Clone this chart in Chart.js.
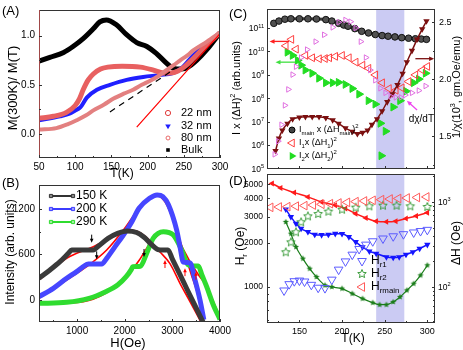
<!DOCTYPE html>
<html><head><meta charset="utf-8">
<script src="https://cdn.jsdelivr.net/npm/chart.js@4.4.1/dist/chart.umd.min.js"></script>
<style>
html,body{margin:0;padding:0;background:#fff;}
#wrap{position:relative;width:463px;height:350px;overflow:hidden;background:#fff;}
canvas{position:absolute;left:0;top:0;}
</style></head><body>
<div id="wrap">
<canvas id="cA" width="463" height="350"></canvas>
<canvas id="cB" width="463" height="350"></canvas>
<canvas id="cC" width="463" height="350"></canvas>
<canvas id="cD" width="463" height="350"></canvas>
</div>
<script>
const FONT = '"Liberation Sans", Arial, Helvetica, sans-serif';

// ---------------- Panel A : M(300K)/M(T) vs T ----------------
const A_X_TICKS = [50,100,150,200,250,300];
const A_X_MINOR = [75,125,175,225,275];
const A_Y_TICKS = [0.0,0.5,1.0];
const A_Y_MINOR = [0.25,0.75];
const A_T_BULK = [50,65,84,97,111,125,134,143,157,171,185,199,212,226,235,247,256,268,282,300];
const A_BULK   = [0.74,0.78,0.83,0.89,0.97,1.07,1.14,1.16,1.11,1.01,0.93,0.89,0.82,0.72,0.67,0.66,0.68,0.75,0.86,1.03];
const A_T_22 = [50,70,88,100,106,111,118,125,135,145,165,190,208,222,232,242,252,262,278,300];
const A_22   = [0.16,0.18,0.22,0.29,0.36,0.45,0.55,0.61,0.66,0.68,0.69,0.68,0.65,0.62,0.62,0.64,0.69,0.76,0.88,1.03];
const A_T_32 = [50,79,93,100,107,116,130,148,171,194,217,235,247,263,282,300];
const A_32   = [0.14,0.18,0.21,0.24,0.27,0.37,0.45,0.50,0.55,0.58,0.60,0.62,0.67,0.80,0.92,1.03];
const A_T_80 = [50,74,90,102,115,125,140,153,167,180,192,203,215,226,236,245,255,263,282,300];
const A_80   = [0.045,0.06,0.10,0.14,0.19,0.24,0.30,0.36,0.41,0.45,0.50,0.54,0.59,0.65,0.70,0.75,0.80,0.85,0.94,1.03];
const A_DASH_T = [148,235]; const A_DASH = [0.225,0.65];
const A_LINE_T = [185,300]; const A_LINE = [0.07,1.02];
const A_LEGEND = ['22 nm','32 nm','80 nm','Bulk'];

// ---------------- Panel B : Intensity vs H ----------------
const B_X_TICKS = [1000,2000,3000,4000];
const B_X_MINOR = [500,1500,2500,3500];
const B_Y_TICKS = [0,600,1200];
const B_Y_MINOR = [300,900];
const B_H_150 = [200,431,641,816,886,956,1100,1250,1340,1450,1650,1850,2050,2250,2400,2550,2700,2800,2908,3000,3150,3300,3450,3600,3650];
const B_150   = [286,396,505,615,659,659,659,659,659,712,813,879,910,890,830,740,665,659,659,540,347,152,-42,-235,-300];
const B_FIT150_H = [200,781,1341,1691,2000,2200,2450,2740,2950,3160,3370,3600];
const B_FIT150   = [264,549,703,813,901,914,830,633,480,220,-20,-290];
const B_H_200 = [200,501,781,991,1131,1236,1376,1516,1621,1796,1971,2150,2300,2520,2680,2800,2920,3090,3160,3230,3370,3475,3580,3660];
const B_200   = [44,154,286,374,440,475,475,475,549,703,857,1033,1209,1341,1385,1363,1253,923,703,500,490,264,0,-260];
const B_FIT200_H = [200,781,1201,1621,2000,2300,2550,2680,2850,3000,3080,3250,3400,3530,3650];
const B_FIT200   = [22,264,440,659,945,1209,1354,1375,1290,1080,923,620,330,80,-240];
const B_H_290 = [200,781,1250,1600,1850,2030,2140,2170,2330,2461,2600,2810,3020,3195,3335,3440,3545,3620,3720,3860,4000];
const B_290   = [-44,-31,22,110,198,308,404,440,445,618,815,901,857,660,462,448,448,330,176,-66,-255];
const B_FIT290_H = [200,1131,1600,2000,2300,2550,2810,3020,3200,3370,3550,3720,3860,4000];
const B_FIT290   = [-53,-22,88,280,520,760,888,850,700,505,330,176,-20,-230];
const B_DOWN_H = [1306,1411,2405]; const B_DOWN_I = [756,536,567];
const B_UP_H = [2845,3265,3495];   const B_UP_I = [527,420,374];
const B_LEGEND = ['150 K','200 K','290 K'];

// ---------------- Panel C ----------------
const C_X_TICKS = [150,200,250,300];
const C_X_MINOR = [125,175,225,275];
const C_YL_TICKS = [1e5,1e6,1e7,1e8,1e9,1e10,1e11];
const C_YR_TICKS = [1.5,2.0,2.5];
const C_YR_MINOR = [1.25,1.75,2.25];
const BAND_T = [240,273];
const C_T_MAIN = [120,126,133,140,150,160,170,181,188,196,202,207,215,223,231,239,247,254,262,270,278,286,293,299];
const C_MAIN   = [1.6e11,2.0e11,2.4e11,2.5e11,2.5e11,2.5e11,2.45e11,2.3e11,2.0e11,1.6e11,1.35e11,1.2e11,9.5e10,7.3e10,6.2e10,5.3e10,4.8e10,4.5e10,4.2e10,3.9e10,3.7e10,3.5e10,3.4e10,3.3e10];
const C_T_I1 = [134,146,157,165,173,180,185,192,200,208,216,224,231,239,247,255,263,270,278,286,294,300];
const C_I1   = [1.74e10,1.26e10,6.8e9,5.4e9,4.9e9,5.0e9,5.4e9,6.2e9,6.8e9,5.4e9,3.5e9,2.6e9,1.9e9,1.0e9,4.6e8,2.6e8,2.2e8,2.8e8,5.2e8,1.0e9,1.6e9,2.3e9];
const C_T_I2 = [136,142,148,152,157,165,173,181,189,196,204,212,220,231,239,245,246,251,260,268,275,284,290,298];
const C_I2   = [9.3e9,6.8e9,4.2e9,2.6e9,1.6e9,1.17e9,7.2e8,4.6e8,4.6e8,4.8e8,3.9e8,2.6e8,1.5e8,7.9e7,5.6e7,8.5e6,3.5e5,3.9e6,4.2e7,7.9e7,2.0e8,4.6e8,6.6e8,1.17e9];
const C_T_DCHI = [121,125,129,133,137,142,146,152,159,169,179,189,196,204,210,216,222,228,233,239,245,251,257,263,269,274,282,290,298];
const C_DCHI   = [1.34,1.455,1.60,1.77,1.91,2.04,2.11,2.19,2.26,2.33,2.39,2.455,2.50,2.52,2.505,2.45,2.33,2.19,2.08,1.99,1.92,1.88,1.85,1.84,1.84,1.86,1.88,1.90,1.94];
const C_T_INV = [122,126,130,136,142,150,157,165,173,181,189,196,204,212,218,224,230,235,241,247,253,259,265,271,276,282,288,294,299];
const C_INV   = [1.37,1.48,1.55,1.61,1.65,1.665,1.67,1.67,1.67,1.66,1.64,1.61,1.57,1.54,1.52,1.53,1.55,1.60,1.65,1.72,1.80,1.87,1.95,2.05,2.15,2.25,2.35,2.44,2.51];

// ---------------- Panel D ----------------
const D_X_TICKS = [150,200,250,300];
const D_X_MINOR = [125,175,225,275];
const D_YL_TICKS = [1000,2000,3000,4000,5000];
const D_YL_MINOR = [600,700,800,900];
const D_YR_TICKS = [100,1000];
const D_YR_MINOR = [40,50,60,70,80,90,200,300,400,500,600,700,800,900,2000];
const D_T_MAIN = [118,128,144,160,176,192,204,216,228,240,252,263,275,287,300];
const D_MAIN   = [5060,4720,4385,4100,3790,3600,3415,3155,2950,2800,2775,2800,2920,3040,3205];
const D_T_R1 = [134,140,146,152,160,168,176,184,192,200,208,216,224,232,240,252,260,267,275,283,291,300];
const D_R1   = [3380,3000,2700,2495,2370,2270,2260,2270,2305,2300,2190,2025,1870,1750,1690,1600,1585,1600,1660,1730,1825,1940];
const D_T_R2 = [134,140,146,154,162,170,180,188,200,212,224,236,244,252,260,268,276,284,292,300];
const D_R2   = [2770,2305,1870,1560,1333,1170,1026,1000,975,901,833,782,758,758,791,855,949,1054,1200,1405];
const D_T_W1 = [132,138,144,150,156,164,172,180,188,196,204,212,220,228,236,248,260,272,284,292,300];
const D_W1   = [91,108,117,119,116,106,98,97,122,160,200,240,280,315,345,372,395,418,438,455,470];
const D_T_W2 = [134,140,146,152,160,172,184,200,216,232,248,264,280,300];
const D_W2   = [256,335,440,577,678,722,770,812,858,889,906,906,889,873];
const D_T_WM = [116,126,136,146,156,166,176,186,196,206,216,226,236,246,256,266,276,288,299];
const D_WM   = [865,873,881,893,906,920,939,955,973,990,1009,1028,1047,1065,1084,1099,1114,1130,1146];

// ---------------- helpers ----------------
const P = (xs, ys) => xs.map((x, i) => ({x: x, y: ys[i]}));
function line(xs, ys, o) {
  return Object.assign({data: P(xs, ys), showLine: true, pointRadius: 0, borderWidth: 1.5,
    cubicInterpolationMode: 'monotone', fill: false, yAxisID: 'y'}, o);
}
function pts(xs, ys, o) {
  return Object.assign({data: P(xs, ys), showLine: false, pointRadius: 3, borderWidth: 1, yAxisID: 'y'}, o);
}
function band(xs, ys, outer, inner, w1, w2, o) {
  return [line(xs, ys, Object.assign({borderColor: outer, borderWidth: w1}, o || {})),
          line(xs, ys, Object.assign({borderColor: inner, borderWidth: w2}, o || {}))];
}
function starImg(r, fill, stroke) {
  const c = document.createElement('canvas'); const s = Math.ceil(r * 2 + 3); c.width = c.height = s;
  const g = c.getContext('2d'); g.translate(s / 2, s / 2); g.beginPath();
  for (let i = 0; i < 10; i++) { const rr = i % 2 ? r * 0.45 : r; const a = -Math.PI / 2 + i * Math.PI / 5; g.lineTo(rr * Math.cos(a), rr * Math.sin(a)); }
  g.closePath();
  if (fill) { g.fillStyle = fill; g.fill(); }
  if (stroke) { g.strokeStyle = stroke; g.lineWidth = 1; g.stroke(); }
  return c;
}
function scale(pos, type, min, max, ticks, fmt, fit, o) {
  o = o || {};
  return {
    type: type, position: pos, min: min, max: max, bounds: 'data',
    grid: {display: false, drawTicks: false}, border: {display: false},
    ticks: {display: o.labels !== false, color: '#000', font: {family: FONT, size: o.size || 10},
      padding: o.pad == null ? 3 : o.pad, autoSkip: false, maxRotation: 0, minRotation: 0,
      callback: (v) => fmt(v)},
    afterBuildTicks: (s) => { s.ticks = ticks.map(v => ({value: v})); },
    afterFit: (s) => { if (pos === 'left' || pos === 'right') s.width = fit; else s.height = fit; }
  };
}
function rich(ctx, segs, x, y, size, o) {
  o = o || {};
  ctx.save(); ctx.translate(x, y); if (o.rot) ctx.rotate(o.rot);
  ctx.textBaseline = 'middle'; ctx.textAlign = 'left'; ctx.fillStyle = o.color || '#000';
  const f = m => (m ? size * 0.66 : size) + 'px ' + FONT;
  let w = 0;
  segs.forEach(([t, m]) => { ctx.font = f(m); w += ctx.measureText(t).width; });
  let cx = o.align === 'left' ? 0 : (o.align === 'right' ? -w : -w / 2);
  segs.forEach(([t, m]) => {
    ctx.font = f(m);
    const dy = m === 1 ? size * 0.32 : (m === 2 ? -size * 0.36 : 0);
    ctx.fillText(t, cx, dy); cx += ctx.measureText(t).width;
  });
  ctx.restore();
}
function mark(ctx, type, x, y, r, fill, stroke, rot) {
  ctx.save(); ctx.translate(x, y); ctx.rotate((rot || 0) * Math.PI / 180); ctx.beginPath();
  if (type === 'circle') ctx.arc(0, 0, r, 0, 2 * Math.PI);
  else if (type === 'rect') ctx.rect(-r, -r, 2 * r, 2 * r);
  else if (type === 'triangle') { ctx.moveTo(0, -r); ctx.lineTo(r * 0.87, r * 0.5); ctx.lineTo(-r * 0.87, r * 0.5); ctx.closePath(); }
  else if (type === 'star') { for (let i = 0; i < 10; i++) { const rr = i % 2 ? r * 0.45 : r; const a = -Math.PI / 2 + i * Math.PI / 5; ctx.lineTo(rr * Math.cos(a), rr * Math.sin(a)); } ctx.closePath(); }
  if (fill) { ctx.fillStyle = fill; ctx.fill(); }
  if (stroke) { ctx.strokeStyle = stroke; ctx.lineWidth = 1; ctx.stroke(); }
  ctx.restore();
}
function arrow(ctx, x1, y1, x2, y2, color, lw, hl) {
  const a = Math.atan2(y2 - y1, x2 - x1); hl = hl || 5;
  ctx.save(); ctx.strokeStyle = color; ctx.fillStyle = color; ctx.lineWidth = lw || 1.2;
  ctx.beginPath(); ctx.moveTo(x1, y1); ctx.lineTo(x2 - Math.cos(a) * hl * 0.8, y2 - Math.sin(a) * hl * 0.8); ctx.stroke();
  ctx.beginPath(); ctx.moveTo(x2, y2);
  ctx.lineTo(x2 - hl * Math.cos(a) + hl * 0.45 * Math.sin(a), y2 - hl * Math.sin(a) - hl * 0.45 * Math.cos(a));
  ctx.lineTo(x2 - hl * Math.cos(a) - hl * 0.45 * Math.sin(a), y2 - hl * Math.sin(a) + hl * 0.45 * Math.cos(a));
  ctx.closePath(); ctx.fill(); ctx.restore();
}
function frame(chart, axes, leftColor) {
  const ctx = chart.ctx, a = chart.chartArea;
  ctx.save(); ctx.strokeStyle = '#333'; ctx.lineWidth = 1;
  ctx.strokeRect(Math.round(a.left) + 0.5, Math.round(a.top) + 0.5, Math.round(a.right - a.left) - 1, Math.round(a.bottom - a.top) - 1);
  if (leftColor) { ctx.strokeStyle = leftColor; ctx.beginPath(); ctx.moveTo(Math.round(a.left) + 0.5, a.top); ctx.lineTo(Math.round(a.left) + 0.5, a.bottom); ctx.stroke(); ctx.strokeStyle = '#333'; }
  axes.forEach(ax => {
    const s = chart.scales[ax.id];
    [[ax.major, 3], [ax.minor || [], 2]].forEach(([vals, len]) => vals.forEach(v => {
      const p = Math.round(s.getPixelForValue(v)) + 0.5;
      ctx.beginPath();
      if (ax.side === 'bottom') { ctx.moveTo(p, a.bottom); ctx.lineTo(p, a.bottom - len); }
      else if (ax.side === 'left') { ctx.moveTo(a.left, p); ctx.lineTo(a.left + len, p); }
      else { ctx.moveTo(a.right, p); ctx.lineTo(a.right - len, p); }
      ctx.stroke();
    }));
  });
  ctx.restore();
}
function logLabels(chart, id, side, size) {
  const s = chart.scales[id], a = chart.chartArea, ctx = chart.ctx;
  s.ticks.forEach(t => {
    const y = s.getPixelForValue(t.value);
    const e = Math.round(Math.log10(t.value));
    const segs = [['10', 0], [String(e), 2]];
    if (side === 'left') rich(ctx, segs, a.left - 3, y + 1, size, {align: 'right'});
    else rich(ctx, segs, a.right + 3, y + 1, size, {align: 'left'});
  });
}
function shade(chart) {
  const ctx = chart.ctx, a = chart.chartArea, x = chart.scales.x;
  const x1 = x.getPixelForValue(BAND_T[0]), x2 = x.getPixelForValue(BAND_T[1]);
  ctx.save(); ctx.fillStyle = '#cbcbf3'; ctx.fillRect(x1, a.top, x2 - x1, a.bottom - a.top); ctx.restore();
}

const DECO = {};
Chart.register({
  id: 'deco',
  beforeDatasetsDraw(chart) { const d = DECO[chart.canvas.id]; if (d && d.before) d.before(chart, chart.ctx); },
  afterDatasetsDraw(chart) { const d = DECO[chart.canvas.id]; if (d && d.after) d.after(chart, chart.ctx); }
});
function base(padding, scales) {
  return {responsive: false, animation: false, devicePixelRatio: 1, events: [],
    layout: {padding: padding}, plugins: {legend: {display: false}, tooltip: {enabled: false}}, scales: scales};
}

// ================= Panel A =================
DECO.cA = {
  after(chart, ctx) {
    frame(chart, [{id: 'x', side: 'bottom', major: A_X_TICKS, minor: A_X_MINOR}, {id: 'y', side: 'left', major: A_Y_TICKS, minor: A_Y_MINOR}], '#a04848');
    rich(ctx, [['(A)', 0]], 2, 11, 13, {align: 'left'});
    rich(ctx, [['M(300K)/ M(T)', 0]], 13, 88, 13, {rot: -Math.PI / 2});
    rich(ctx, [['T(K)', 0]], 122, 174, 12);
    const ys = [113, 126, 138, 150];
    mark(ctx, 'circle', 168, ys[0], 2.6, '#fff', '#e03a3a');
    mark(ctx, 'triangle', 168, ys[1], 3.2, '#1f1fff', null, 180);
    mark(ctx, 'circle', 168, ys[2], 2.0, '#fff', '#e86a6a');
    mark(ctx, 'rect', 168, ys[3], 1.8, '#000', null);
    A_LEGEND.forEach((t, i) => rich(ctx, [[t, 0]], 181, ys[i], 11, {align: 'left'}));
  }
};
new Chart(document.getElementById('cA'), {
  type: 'scatter',
  data: {datasets: [
    line(A_DASH_T, A_DASH, {borderColor: '#000', borderWidth: 1.2, borderDash: [6, 5]}),
    line(A_LINE_T, A_LINE, {borderColor: '#ff0000', borderWidth: 1.2}),
    ...band(A_T_80, A_80, '#e38080', '#ffffff', 4, 2),
    ...band(A_T_22, A_22, '#e86060', '#ffe4e4', 5, 2.6),
    line(A_T_32, A_32, {borderColor: '#1f1fff', borderWidth: 4}),
    line(A_T_BULK, A_BULK, {borderColor: '#000', borderWidth: 5})
  ]},
  options: base({left: 0, top: 4, right: 243, bottom: 164}, {
    x: scale('bottom', 'linear', 50, 300, A_X_TICKS, v => String(v), 28, {size: 10, pad: 3}),
    y: scale('left', 'linear', -0.244, 1.261, A_Y_TICKS, v => v.toFixed(1), 39, {size: 10, pad: 4})
  })
});

// ================= Panel B =================
DECO.cB = {
  after(chart, ctx) {
    const x = chart.scales.x, y = chart.scales.y;
    B_DOWN_H.forEach((h, i) => { const px = x.getPixelForValue(h), py = y.getPixelForValue(B_DOWN_I[i]); arrow(ctx, px, py - 8, px, py, '#000', 1, 4); });
    B_UP_H.forEach((h, i) => { const px = x.getPixelForValue(h), py = y.getPixelForValue(B_UP_I[i]); arrow(ctx, px, py + 8, px, py, '#ff0000', 1, 4); });
    frame(chart, [{id: 'x', side: 'bottom', major: B_X_TICKS, minor: B_X_MINOR}, {id: 'y', side: 'left', major: B_Y_TICKS, minor: B_Y_MINOR}]);
    rich(ctx, [['(B)', 0]], 2, 183, 13, {align: 'left'});
    rich(ctx, [['Intensity (arb. units)', 0]], 11, 252, 12, {rot: -Math.PI / 2});
    rich(ctx, [['H(Oe)', 0]], 128, 343, 13);
    const ys = [196, 209, 222], cols = [['#333', '#888'], ['#3c3cff', '#9a9aff'], ['#2fdc2f', '#a0f0a0']];
    ys.forEach((yy, i) => {
      ctx.save(); ctx.strokeStyle = cols[i][0]; ctx.lineWidth = 2; ctx.beginPath(); ctx.moveTo(50, yy); ctx.lineTo(74, yy); ctx.stroke(); ctx.restore();
      mark(ctx, 'rect', 51, yy, 1.6, cols[i][1], cols[i][0]);
      mark(ctx, 'rect', 73, yy, 1.6, cols[i][1], cols[i][0]);
      rich(ctx, [[B_LEGEND[i], 0]], 76, yy, 12, {align: 'left'});
    });
  }
};
new Chart(document.getElementById('cB'), {
  type: 'scatter',
  data: {datasets: [
    ...band(B_H_150, B_150, '#3a3a3a', '#8e8e8e', 5, 1.3),
    ...band(B_H_200, B_200, '#4646ff', '#a6a6ff', 5, 1.3),
    ...band(B_H_290, B_290, '#2fdc2f', '#a8f5a8', 5, 1.3),
    line(B_FIT150_H, B_FIT150, {borderColor: '#ff0000', borderWidth: 1.6}),
    line(B_FIT200_H, B_FIT200, {borderColor: '#ff0000', borderWidth: 1.6}),
    line(B_FIT290_H, B_FIT290, {borderColor: '#ff0000', borderWidth: 1.6})
  ]},
  options: base({left: 0, top: 185, right: 243, bottom: 0}, {
    x: scale('bottom', 'linear', 200, 4000, B_X_TICKS, v => String(v), 28, {size: 10, pad: 3}),
    y: scale('left', 'linear', -290, 1516, B_Y_TICKS, v => String(v), 39, {size: 10, pad: 4})
  })
});

// ================= Panel C =================
DECO.cC = {
  before(chart) { shade(chart); },
  after(chart, ctx) {
    const x = chart.scales.x, yl = chart.scales.y, yr = chart.scales.y2;
    frame(chart, [{id: 'x', side: 'bottom', major: C_X_TICKS, minor: C_X_MINOR}, {id: 'y', side: 'left', major: C_YL_TICKS}, {id: 'y2', side: 'right', major: C_YR_TICKS, minor: C_YR_MINOR}]);
    logLabels(chart, 'y', 'left', 8.5);
    arrow(ctx, x.getPixelForValue(138), yl.getPixelForValue(2.7e10), x.getPixelForValue(115), yl.getPixelForValue(2.7e10), '#ff2020', 1.3, 5);
    mark(ctx, 'triangle', x.getPixelForValue(140.6), yl.getPixelForValue(3.3e10), 4.5, null, '#ff4040', -90);
    arrow(ctx, x.getPixelForValue(145), yl.getPixelForValue(3.5e9), x.getPixelForValue(122), yl.getPixelForValue(3.5e9), '#40e040', 1.3, 5);
    arrow(ctx, x.getPixelForValue(286), yr.getPixelForValue(2.18), x.getPixelForValue(308), yr.getPixelForValue(2.18), '#7b1010', 1.3, 5);
    arrow(ctx, x.getPixelForValue(288), yr.getPixelForValue(1.73), x.getPixelForValue(276), yr.getPixelForValue(1.81), '#ee44ee', 1.3, 5);
    rich(ctx, [['dχ/dT', 0]], x.getPixelForValue(293), yr.getPixelForValue(1.645), 10);
    rich(ctx, [['(C)', 0]], 229, 14, 13, {align: 'left'});
    rich(ctx, [['I x (ΔH)', 0], ['2', 2], [' (arb.units)', 0]], 237, 88, 11, {rot: -Math.PI / 2});
    rich(ctx, [['1/χ(10', 0], ['3', 2], [', gm.Oe/emu)', 0]], 457, 87, 11, {rot: -Math.PI / 2});
    const ys = [130, 143, 156];
    mark(ctx, 'circle', 292, ys[0], 3, '#444', '#000');
    mark(ctx, 'triangle', 292, ys[1], 4.5, null, '#ff4040', -90);
    mark(ctx, 'triangle', 292, ys[2], 4.5, '#22dd22', null, 90);
    rich(ctx, [['I', 0], ['main', 1], [' x (ΔH', 0], ['main', 1], [')', 0], ['2', 2]], 299, ys[0], 9, {align: 'left'});
    rich(ctx, [['I', 0], ['1', 1], ['x (ΔH', 0], ['1', 1], [')', 0], ['2', 2]], 299, ys[1], 9, {align: 'left'});
    rich(ctx, [['I', 0], ['2', 1], ['x (ΔH', 0], ['2', 1], [')', 0], ['2', 2]], 299, ys[2], 9, {align: 'left'});
  }
};
new Chart(document.getElementById('cC'), {
  type: 'scatter',
  data: {datasets: [
    pts(C_T_DCHI, C_DCHI, {yAxisID: 'y2', pointStyle: 'triangle', rotation: 90, pointRadius: 3.2, borderColor: '#e070e0', backgroundColor: 'rgba(0,0,0,0)'}),
    line(C_T_INV, C_INV, {yAxisID: 'y2', borderColor: '#7b1010', borderWidth: 1.5, pointRadius: 2.2, pointStyle: 'triangle', rotation: 180, pointBackgroundColor: '#7b1010', pointBorderColor: '#7b1010', cubicInterpolationMode: 'default', tension: 0.3}),
    line(C_T_MAIN, C_MAIN, {borderColor: '#3a3a3a', borderWidth: 3, pointRadius: 3.3, pointBackgroundColor: '#505050', pointBorderColor: '#111', pointBorderWidth: 1}),
    pts(C_T_I1, C_I1, {pointStyle: 'triangle', rotation: -90, pointRadius: 4.5, borderColor: '#ff4040', backgroundColor: 'rgba(0,0,0,0)'}),
    pts(C_T_I2, C_I2, {pointStyle: 'triangle', rotation: 90, pointRadius: 4.5, borderColor: '#22dd22', backgroundColor: '#22dd22'})
  ]},
  options: base({left: 230, top: 4, right: 0, bottom: 175}, {
    x: scale('bottom', 'linear', 112, 309, C_X_TICKS, v => '', 6, {labels: false}),
    y: scale('left', 'logarithmic', 9.5e4, 6.3e11, C_YL_TICKS, v => '', 37, {labels: false}),
    y2: scale('right', 'linear', 1.211, 2.613, C_YR_TICKS, v => v.toFixed(1), 28, {size: 9, pad: 4})
  })
});

// ================= Panel D =================
const starOpen = starImg(4.5, null, '#3d9d3d');
const starFill = starImg(3.2, '#1a7d1a', null);
DECO.cD = {
  before(chart) { shade(chart); },
  after(chart, ctx) {
    frame(chart, [{id: 'x', side: 'bottom', major: D_X_TICKS, minor: D_X_MINOR}, {id: 'y', side: 'left', major: D_YL_TICKS, minor: D_YL_MINOR}, {id: 'y2', side: 'right', major: D_YR_TICKS, minor: D_YR_MINOR}]);
    logLabels(chart, 'y2', 'right', 8.5);
    rich(ctx, [['(D)', 0]], 229, 181, 13, {align: 'left'});
    rich(ctx, [['H', 0], ['r', 1], [' (Oe)', 0]], 241, 246, 12, {rot: -Math.PI / 2});
    rich(ctx, [['ΔH (Oe)', 0]], 457, 243, 12, {rot: -Math.PI / 2});
    rich(ctx, [['T(K)', 0]], 353, 339, 12);
    const ys = [261, 274, 287];
    mark(ctx, 'triangle', 362, ys[0], 5, null, '#5b5bff', 180);
    mark(ctx, 'star', 362, ys[1], 4.5, null, '#3d9d3d');
    mark(ctx, 'triangle', 362, ys[2], 5, null, '#ff5a5a', -90);
    rich(ctx, [['H', 0], ['r1', 1]], 371, ys[0], 12, {align: 'left'});
    rich(ctx, [['H', 0], ['r2', 1]], 371, ys[1], 12, {align: 'left'});
    rich(ctx, [['H', 0], ['rmain', 1]], 371, ys[2], 12, {align: 'left'});
  }
};
new Chart(document.getElementById('cD'), {
  type: 'scatter',
  data: {datasets: [
    pts(D_T_WM, D_WM, {yAxisID: 'y2', pointStyle: 'triangle', rotation: -90, pointRadius: 5, borderColor: '#ff5a5a', backgroundColor: 'rgba(0,0,0,0)'}),
    pts(D_T_W2, D_W2, {yAxisID: 'y2', pointStyle: starOpen}),
    pts(D_T_W1, D_W1, {yAxisID: 'y2', pointStyle: 'triangle', rotation: 180, pointRadius: 5, borderColor: '#5b5bff', backgroundColor: 'rgba(0,0,0,0)'}),
    line(D_T_MAIN, D_MAIN, {borderColor: '#ff1a1a', borderWidth: 1.5, pointRadius: 2, pointStyle: 'triangle', rotation: -90, pointBackgroundColor: '#ff1a1a', pointBorderColor: '#ff1a1a'}),
    line(D_T_R1, D_R1, {borderColor: '#1515ff', borderWidth: 1.5, pointRadius: 2.2, pointStyle: 'triangle', rotation: 180, pointBackgroundColor: '#1515ff', pointBorderColor: '#1515ff'}),
    line(D_T_R2, D_R2, {borderColor: '#1a7d1a', borderWidth: 1.2, pointRadius: 3, pointStyle: starFill})
  ]},
  options: base({left: 230, top: 174, right: 0, bottom: 0}, {
    x: scale('bottom', 'linear', 112, 309, D_X_TICKS, v => String(v), 27, {size: 9, pad: 3}),
    y: scale('left', 'logarithmic', 569, 5870, D_YL_TICKS, v => String(v), 37, {size: 8.5, pad: 4}),
    y2: scale('right', 'logarithmic', 37.7, 2134, D_YR_TICKS, v => '', 28, {labels: false})
  })
});
</script>
</body></html>
